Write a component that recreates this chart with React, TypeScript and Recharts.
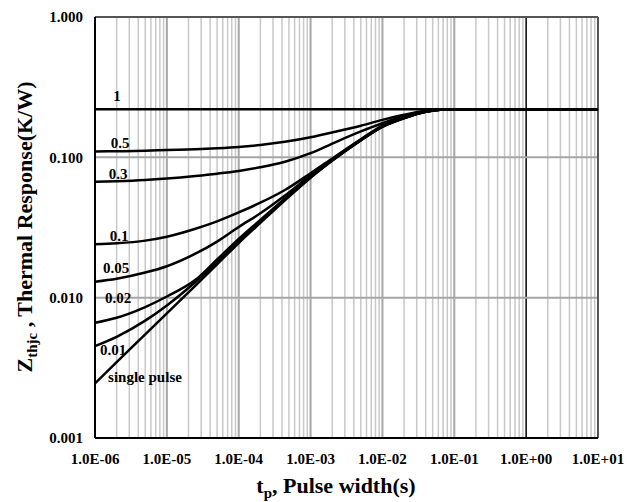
import React from 'react';
import { LineChart, Line, XAxis, YAxis, ReferenceLine, Label } from 'recharts';

// pulse width (s)
const tPulse = [1e-6, 2e-6, 5e-6, 1e-5, 2.5e-5, 5e-5, 1e-4, 2e-4, 4.4e-4, 1e-3, 2.2e-3, 5e-3, 1e-2, 2e-2, 4e-2, 7e-2, 1e-1, 1, 10];

// Zthjc (K/W) per duty cycle
const duty1 = [0.22, 0.22, 0.22, 0.22, 0.22, 0.22, 0.22, 0.22, 0.22, 0.22, 0.22, 0.22, 0.22, 0.22, 0.22, 0.22, 0.22, 0.22, 0.22];
const duty05 = [0.1100, 0.1105, 0.1115, 0.1127, 0.1142, 0.1160, 0.1185, 0.1225, 0.1290, 0.1390, 0.1520, 0.1680, 0.1850, 0.2010, 0.2145, 0.2195, 0.22, 0.22, 0.22];
const duty03 = [0.0670, 0.0676, 0.0690, 0.0707, 0.0737, 0.0765, 0.0800, 0.0850, 0.0930, 0.1070, 0.1280, 0.1530, 0.1750, 0.1960, 0.2125, 0.2195, 0.22, 0.22, 0.22];
const duty01 = [0.0240, 0.0244, 0.0255, 0.0272, 0.0310, 0.0350, 0.0405, 0.0475, 0.0585, 0.0770, 0.1015, 0.1345, 0.1685, 0.1930, 0.2125, 0.2195, 0.22, 0.22, 0.22];
const duty005 = [0.0130, 0.01365, 0.0151, 0.01675, 0.0206, 0.0251, 0.0319, 0.0399, 0.0534, 0.0744, 0.1000, 0.1333, 0.1665, 0.1915, 0.2115, 0.2192, 0.22, 0.22, 0.22];
const duty002 = [0.00662, 0.00719, 0.00857, 0.01019, 0.0134, 0.0187, 0.0262, 0.0358, 0.0509, 0.0729, 0.0990, 0.1327, 0.1657, 0.1905, 0.2113, 0.2191, 0.22, 0.22, 0.22];
const duty001 = [0.00452, 0.00526, 0.00686, 0.00881, 0.01294, 0.0179, 0.0252, 0.0348, 0.0501, 0.0722, 0.0985, 0.1324, 0.1654, 0.1902, 0.2111, 0.2191, 0.22, 0.22, 0.22];
const singlePulse = [0.00245, 0.00347, 0.00548, 0.00774, 0.0122, 0.0173, 0.0245, 0.0341, 0.0494, 0.0715, 0.0980, 0.1320, 0.1650, 0.1900, 0.2110, 0.2190, 0.22, 0.22, 0.22];

const seriesNames = ['1', '0.5', '0.3', '0.1', '0.05', '0.02', '0.01', 'single pulse'];
const seriesValues = [duty1, duty05, duty03, duty01, duty005, duty002, duty001, singlePulse];

const xTicks = [1e-6, 1e-5, 1e-4, 1e-3, 1e-2, 1e-1, 1, 10];
const yTicks = [0.001, 0.01, 0.1, 1];

// where each curve name sits, relative to the curve's first point (px)
const labelOffsets = [[22, -8], [25, -4], [23, -3], [24, -3], [21, -9], [23, -20], [18, 9], [50, -1]];

const rows = tPulse.map((t, i) => {
    const r: any = { t };
    seriesValues.forEach((s, k) => { r['s' + k] = s[i]; });
    return r;
});

const minorX: number[] = [];
for (let e = -6; e < 1; e++) {
    for (let m = 2; m < 10; m++) minorX.push(m * Math.pow(10, e));
}
const majorX = [1e-5, 1e-4, 1e-3, 1e-2, 1e-1];

const font = "'Liberation Serif', 'DejaVu Serif', serif";

const fmtX = (v: number) => {
    const e = Math.round(Math.log10(v));
    return '1.0E' + (e < 0 ? '-' : '+') + String(Math.abs(e)).padStart(2, '0');
};

const makeLabel = (k: number) => (p: any) => {
    if (p.index !== 0) return <g />;
    const [dx, dy] = labelOffsets[k];
    return (
        <text x={p.x + dx} y={p.y + dy} textAnchor="middle" fontFamily={font} fontWeight="bold" fontSize={15} fill="#000">
            {seriesNames[k]}
        </text>
    );
};

const XTitle = () => (
    <text x={336} y={493} textAnchor="middle" fontFamily={font} fontWeight="bold" fontSize={22} fill="#000">
        t<tspan dy={5} fontSize={15}>p</tspan><tspan dy={-5}>, Pulse width(s)</tspan>
    </text>
);

const YTitle = () => (
    <text x={32} y={227} transform="rotate(-90, 32, 227)" textAnchor="middle" fontFamily={font} fontWeight="bold" fontSize={22} fill="#000">
        Z<tspan dy={5} fontSize={15}>thjc</tspan><tspan dy={-5}> , Thermal Response(K/W)</tspan>
    </text>
);

export default function App() {
    return (
        <div style={{ position: 'absolute', left: 0, top: 0, background: '#fff' }}>
            <LineChart width={640} height={502} data={rows} margin={{ top: 17, right: 42, left: 0, bottom: 0 }}>
                <XAxis
                    dataKey="t"
                    type="number"
                    scale="log"
                    domain={[1e-6, 10]}
                    ticks={xTicks}
                    tickFormatter={fmtX}
                    allowDataOverflow
                    height={64}
                    tickLine={false}
                    tickSize={6}
                    tickMargin={9}
                    axisLine={{ stroke: '#000', strokeWidth: 2 }}
                    tick={{ fill: '#000', fontFamily: font, fontWeight: 'bold', fontSize: 15 }}
                >
                    <Label content={<XTitle />} />
                </XAxis>
                <YAxis
                    type="number"
                    scale="log"
                    domain={[0.001, 1]}
                    ticks={yTicks}
                    tickFormatter={(v: number) => v.toFixed(3)}
                    allowDataOverflow
                    width={95}
                    tickLine={false}
                    tickSize={6}
                    tickMargin={6}
                    axisLine={{ stroke: '#000', strokeWidth: 2 }}
                    tick={{ fill: '#000', fontFamily: font, fontWeight: 'bold', fontSize: 15 }}
                >
                    <Label content={<YTitle />} />
                </YAxis>
                {minorX.map((v) => (
                    <ReferenceLine key={'mx' + v} x={v} stroke="#c8c8c8" strokeWidth={1.5} />
                ))}
                {majorX.map((v) => (
                    <ReferenceLine key={'Mx' + v} x={v} stroke="#a6a6a6" strokeWidth={2} />
                ))}
                <ReferenceLine x={1} stroke="#000" strokeWidth={1.5} />
                <ReferenceLine y={0.1} stroke="#a6a6a6" strokeWidth={2} />
                <ReferenceLine y={0.01} stroke="#a6a6a6" strokeWidth={2} />
                <ReferenceLine y={1} stroke="#555" strokeWidth={2} />
                <ReferenceLine x={10} stroke="#555" strokeWidth={2} />
                {seriesValues.map((_, k) => (
                    <Line
                        key={'s' + k}
                        dataKey={'s' + k}
                        type="monotone"
                        stroke="#000"
                        strokeWidth={2.5}
                        dot={false}
                        isAnimationActive={false}
                        label={makeLabel(k)}
                    />
                ))}
            </LineChart>
        </div>
    );
}
